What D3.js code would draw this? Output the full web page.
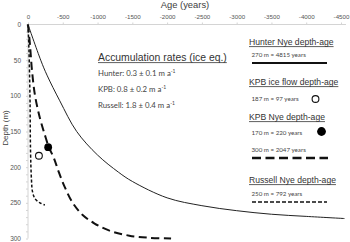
<!DOCTYPE html>
<html><head><meta charset="utf-8">
<script src="https://cdn.jsdelivr.net/npm/d3@7"></script>
<style>
html,body{margin:0;padding:0;background:#fff;}
svg{display:block;}
</style></head>
<body>
<svg id="c" width="350" height="242"></svg>
<script>
// ---- data ----
const xTicks = [0,-500,-1000,-1500,-2000,-2500,-3000,-3500,-4000,-4500];
const yTicks = [0,50,100,150,200,250,300];

const hunterAge   = [0,-183,-273,-457,-700,-1000,-1300,-1500,-2000,-2500,-3000,-3500,-4000,-4550];
const hunterDepth = [0,50,71,107,150,183,207,220,243,254,261,266,269,272];

const kpbAge   = [0,-29,-57,-100,-171,-243,-300,-371,-443,-529,-643,-786,-957,-1171,-1457,-1743,-2057];
const kpbDepth = [0,29,64,99,131,155,172,187,207,228,250,267,279,289,296,299,300];

const russellAge   = [0,-14,-29,-36,-50,-64,-100,-171,-243];
const russellDepth = [0,36,106,176,218,234,244,250,253];

const iceFlowPoint = {age:-157, depth:184};
const kpbNyePoint  = {age:-290, depth:172};

const rates = [
  {label:"Hunter:", value:"0.3 ± 0.1 m a"},
  {label:"KPB:", value:"0.8 ± 0.2 m a"},
  {label:"Russell:", value:"1.8 ± 0.4 m a"}
];

// ---- chart ----
const svg = d3.select("#c");
const x = d3.scaleLinear().domain([0,-4500]).range([28,341]);
const y = d3.scaleLinear().domain([0,300]).range([24.5,238.5]);

const axisColor = "#d4d4d4";
const txt = "#404040";

// x axis (top)
const xa = svg.append("g").attr("transform","translate(0,24.5)")
  .call(d3.axisTop(x).tickValues(xTicks).tickSize(2).tickPadding(4).tickFormat(d=>String(d)));
xa.select(".domain").attr("stroke",axisColor).attr("d","M28,0H346");
xa.selectAll(".tick line").attr("stroke",axisColor);
xa.selectAll(".tick text").attr("font-family","Liberation Sans, Arial, sans-serif").attr("font-size",6.2).attr("fill","#555");

// y axis
const ya = svg.append("g").attr("transform","translate(28,0)")
  .call(d3.axisLeft(y).tickValues(d3.range(0,301,10)).tickSize(2).tickPadding(5)
    .tickFormat(d=> yTicks.includes(d)? String(d):""));
ya.select(".domain").attr("stroke",axisColor).attr("d","M0,24.5V238.5");
ya.selectAll(".tick line").attr("stroke",axisColor);
ya.selectAll(".tick text").attr("font-family","Liberation Sans, Arial, sans-serif").attr("font-size",6.5).attr("fill","#555");

// axis titles
svg.append("text").attr("x",185).attr("y",8).attr("text-anchor","middle")
  .attr("font-family","Liberation Sans, Arial, sans-serif").attr("font-size",9.4).attr("fill",txt).text("Age (years)");
svg.append("text").attr("transform","translate(8,128) rotate(-90)").attr("text-anchor","middle")
  .attr("font-family","Liberation Sans, Arial, sans-serif").attr("font-size",8).attr("fill",txt).text("Depth (m)");

// curves
const line = d3.line().x(d=>x(d[0])).y(d=>y(d[1])).curve(d3.curveCatmullRom.alpha(0.5));
svg.append("path").datum(d3.zip(hunterAge,hunterDepth)).attr("d",line)
  .attr("fill","none").attr("stroke","#222").attr("stroke-width",1);
svg.append("path").datum(d3.zip(kpbAge,kpbDepth)).attr("d",line)
  .attr("fill","none").attr("stroke","#111").attr("stroke-width",2).attr("stroke-dasharray","8,4.5");
svg.append("path").datum(d3.zip(russellAge,russellDepth)).attr("d",line)
  .attr("fill","none").attr("stroke","#111").attr("stroke-width",1.5).attr("stroke-dasharray","3,2");

// points
svg.append("circle").attr("cx",x(iceFlowPoint.age)).attr("cy",y(iceFlowPoint.depth)).attr("r",3.4)
  .attr("fill","#fff").attr("stroke","#111").attr("stroke-width",1.1);
svg.append("circle").attr("cx",x(kpbNyePoint.age)).attr("cy",y(kpbNyePoint.depth)).attr("r",3.9)
  .attr("fill","#000");

// underlined heading helper
function heading(xp, yp, size, s){
  const t = svg.append("text").attr("x",xp).attr("y",yp)
    .attr("font-family","Liberation Sans, Arial, sans-serif").attr("font-size",size).attr("fill","#333").text(s);
  const w = t.node().getComputedTextLength();
  svg.append("line").attr("x1",xp).attr("x2",xp+w).attr("y1",yp+1.6).attr("y2",yp+1.6)
    .attr("stroke","#333").attr("stroke-width",0.8);
  return t;
}
function small(xp, yp, size, s){
  return svg.append("text").attr("x",xp).attr("y",yp)
    .attr("font-family","Lato, Open Sans, sans-serif").attr("font-size",size).attr("fill","#444").text(s);
}

// accumulation block
heading(98, 61, 10.4, "Accumulation rates (ice eq.)");
rates.forEach((r,i)=>{
  const t = svg.append("text").attr("x",98).attr("y",76+i*16)
    .attr("font-family","Lato, Open Sans, sans-serif").attr("font-size",7.8).attr("fill","#444");
  t.append("tspan").text(r.label+" "+r.value);
  t.append("tspan").attr("dy",-3).attr("font-size",5).text("-1");
});

// legend
heading(249, 45, 8.6, "Hunter Nye depth-age");
small(251.5, 57, 6.2, "270 m = 4815 years");
svg.append("line").attr("x1",252).attr("x2",327).attr("y1",63).attr("y2",63).attr("stroke","#111").attr("stroke-width",1.8);

heading(249, 85, 8.6, "KPB ice flow depth-age");
small(251.5, 101, 6.2, "187 m = 97 years");
svg.append("circle").attr("cx",315.5).attr("cy",99).attr("r",3.4).attr("fill","#fff").attr("stroke","#111").attr("stroke-width",1.1);

heading(249, 120, 8.6, "KPB Nye depth-age");
small(251.5, 135, 6.2, "170 m = 220 years");
svg.append("circle").attr("cx",321.5).attr("cy",131.5).attr("r",4.4).attr("fill","#000");
small(251.5, 151.5, 6.2, "300 m = 2047 years");
svg.append("line").attr("x1",252).attr("x2",328).attr("y1",158).attr("y2",158).attr("stroke","#111")
  .attr("stroke-width",2.4).attr("stroke-dasharray","9,4.5");

heading(249, 183, 8.6, "Russell Nye depth-age");
small(251.5, 195.5, 6.2, "250 m = 792 years");
svg.append("line").attr("x1",252).attr("x2",327).attr("y1",202).attr("y2",202).attr("stroke","#111")
  .attr("stroke-width",1.6).attr("stroke-dasharray","4,2");
</script>
</body></html>
